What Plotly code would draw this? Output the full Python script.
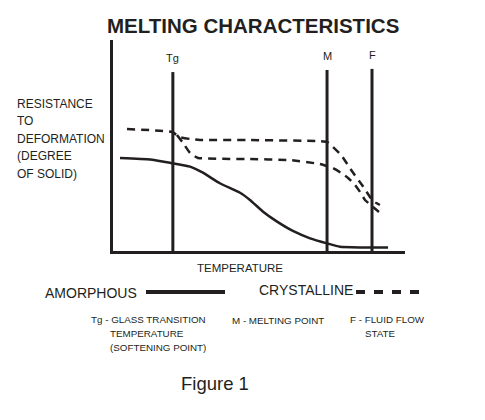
import plotly.graph_objects as go

# ---- data (temperature units 0-100, resistance units 0-100) ----
amorphous_x = [2.4, 12.7, 19.5, 26.4, 30.8, 36.6, 43.5, 46.9, 51.4, 56.2, 61.6, 67.5, 73.3, 77.7, 84.6, 94.2]
amorphous_y = [44.1, 43.4, 41.8, 40.0, 37.1, 32.1, 27.6, 24.2, 18.6, 13.9, 9.5, 6.0, 3.6, 2.0, 1.7, 1.7]

cryst_upper_x = [4.8, 20.2, 22.9, 26.4, 29.8, 45.9, 70.2, 73.3, 78.1, 81.8, 85.3, 89.0, 91.4]
cryst_upper_y = [57.8, 56.4, 54.0, 53.1, 52.6, 52.6, 52.1, 51.7, 45.5, 37.9, 31.3, 23.7, 21.8]

cryst_lower_x = [21.9, 24.0, 26.4, 29.1, 45.9, 60.6, 70.9, 75.3, 78.1, 80.5, 82.9, 84.6, 86.3, 89.0, 91.1]
cryst_lower_y = [55.0, 51.2, 46.4, 44.1, 43.6, 43.1, 41.2, 39.3, 37.0, 34.6, 31.3, 28.0, 24.2, 20.9, 18.5]

transition_names = ["Tg", "M", "F"]
transition_x = [20.5, 73.3, 88.7]
transition_top = [84.8, 85.8, 86.3]

INK = "#231f20"
FONT = "Liberation Sans, Arial, sans-serif"

OFF = 8  # page body margin
W, H = 485, 420
L, R, T, B = 113, 405, 40, 251  # plot area in reference pixels


def px(x):
    return (x - L) / (R - L)


def py(y):
    return (B - y) / (B - T)


fig = go.Figure()

fig.add_trace(go.Scatter(x=amorphous_x, y=amorphous_y, mode="lines",
                         line=dict(color=INK, width=2.5, shape="spline", smoothing=0.4),
                         hoverinfo="skip", showlegend=False))
fig.add_trace(go.Scatter(x=cryst_upper_x, y=cryst_upper_y, mode="lines",
                         line=dict(color=INK, width=2.5, dash="8px,6px", shape="spline", smoothing=0.4),
                         hoverinfo="skip", showlegend=False))
fig.add_trace(go.Scatter(x=cryst_lower_x, y=cryst_lower_y, mode="lines",
                         line=dict(color=INK, width=2.5, dash="8px,6px", shape="spline", smoothing=0.4),
                         hoverinfo="skip", showlegend=False))

shapes = []
annotations = []
for name, xv, top in zip(transition_names, transition_x, transition_top):
    shapes.append(dict(type="line", xref="x", yref="y", x0=xv, x1=xv, y0=0, y1=top,
                       line=dict(color=INK, width=3)))
    annotations.append(dict(xref="x", yref="y", x=xv, y=top + 3, text=name, showarrow=False,
                            yanchor="bottom", font=dict(family=FONT, size=11, color=INK)))

# legend swatches
shapes.append(dict(type="line", xref="paper", yref="paper", x0=px(146), x1=px(225),
                   y0=py(292), y1=py(292), line=dict(color=INK, width=4)))
shapes.append(dict(type="line", xref="paper", yref="paper", x0=px(356), x1=px(421),
                   y0=py(292), y1=py(292), line=dict(color=INK, width=4, dash="9px,9px")))


def text(x, y, s, size, anchor="left", bold=False, family=FONT):
    annotations.append(dict(xref="paper", yref="paper", x=px(x), y=py(y), text=f"<b>{s}</b>" if bold else s,
                            showarrow=False, xanchor=anchor, yanchor="middle",
                            font=dict(family=family, size=size, color=INK)))


text(253, 25, "MELTING CHARACTERISTICS", 20.5, "center", bold=True)
for i, s in enumerate(["RESISTANCE", "TO", "DEFORMATION", "(DEGREE", "OF SOLID)"]):
    text(15, 104 + i * 17.4, s, 12)
text(240, 268, "TEMPERATURE", 11.5, "center")
text(43, 293, "AMORPHOUS", 14)
text(257, 290, "CRYSTALLINE", 14)
text(89, 319, "Tg - GLASS TRANSITION", 9.8)
text(108, 333, "TEMPERATURE", 9.8)
text(108, 347, "(SOFTENING POINT)", 9.8)
text(230, 320, "M - MELTING POINT", 9.8)
text(348, 319, "F - FLUID FLOW", 9.8)
text(363, 333, "STATE", 9.8)
text(215, 383, "Figure 1", 18.5, "center")

fig.update_layout(
    width=W - OFF, height=H - OFF,
    margin=dict(l=L - OFF, r=W - R, t=T - OFF, b=H - B, pad=0),
    paper_bgcolor="white", plot_bgcolor="white",
    xaxis=dict(range=[0, 100], showline=True, linecolor=INK, linewidth=3, showgrid=False,
               zeroline=False, showticklabels=False, ticks="", fixedrange=True),
    yaxis=dict(range=[0, 100], showline=True, linecolor=INK, linewidth=3, showgrid=False,
               zeroline=False, showticklabels=False, ticks="", fixedrange=True),
    shapes=shapes, annotations=annotations, showlegend=False,
)

fig.write_html("out.html", config={"displayModeBar": False})
